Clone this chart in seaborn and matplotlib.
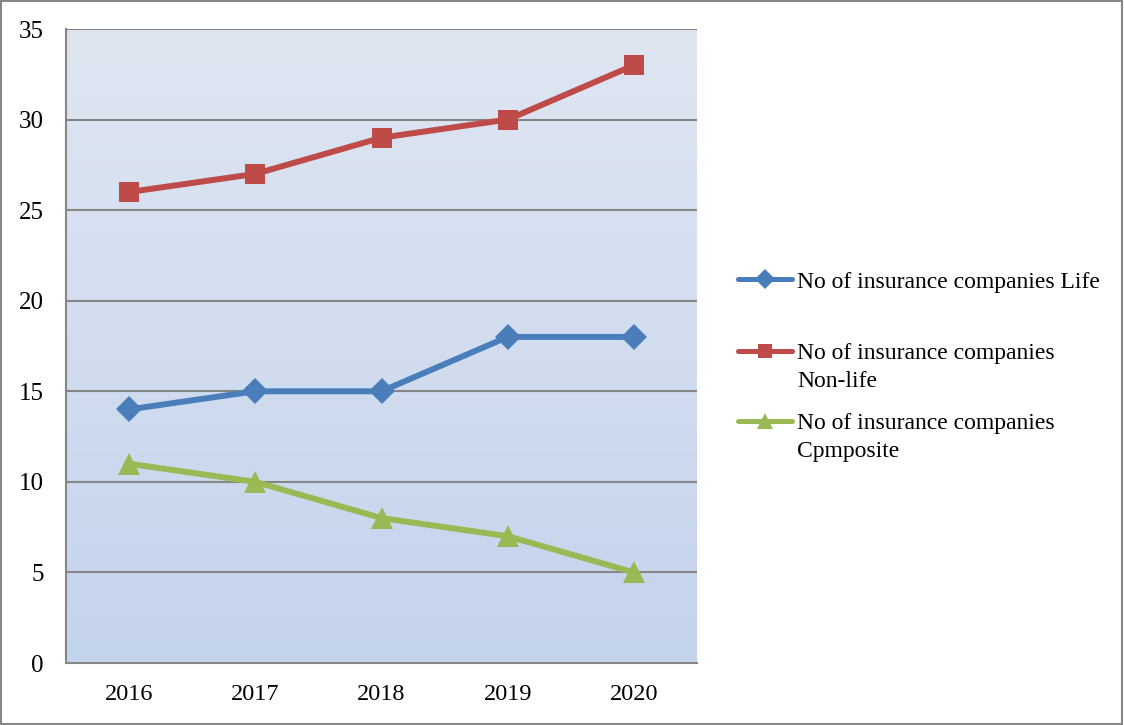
import numpy as np
import pandas as pd
import seaborn as sns
import matplotlib
matplotlib.use("Agg")
import matplotlib.pyplot as plt
from matplotlib.colors import LinearSegmentedColormap
from matplotlib.patches import Rectangle
from matplotlib.legend_handler import HandlerLine2D

years = ["2016", "2017", "2018", "2019", "2020"]
life = [14, 15, 15, 18, 18]
non_life = [26, 27, 29, 30, 33]
composite = [11, 10, 8, 7, 5]
series_names = [
    "No of insurance companies Life",
    "No of insurance companies\nNon-life",
    "No of insurance companies\nCpmposite",
]
y_ticks = [0, 5, 10, 15, 20, 25, 30, 35]

sns.set_theme(style="white")
plt.rcParams["font.family"] = ["Liberation Serif", "DejaVu Serif"]
plt.rcParams["text.color"] = "black"

df = pd.DataFrame({
    "pos": list(range(len(years))) * 3,
    "value": life + non_life + composite,
    "series": [series_names[0]] * 5 + [series_names[1]] * 5 + [series_names[2]] * 5,
})

palette = {series_names[0]: "#4a7ebb", series_names[1]: "#be4b48", series_names[2]: "#98b954"}
markers = {series_names[0]: "D", series_names[1]: "s", series_names[2]: "^"}
msizes = {series_names[0]: 13, series_names[1]: 14, series_names[2]: 16}


class RaisedLineHandler(HandlerLine2D):
    """Legend line handler that lifts the sample up to the first text line."""

    def __init__(self, lift_pts=0.0, **kw):
        super().__init__(**kw)
        self.lift_pts = lift_pts

    def create_artists(self, legend, orig_handle, xdescent, ydescent,
                       width, height, fontsize, trans):
        artists = super().create_artists(legend, orig_handle, xdescent, ydescent,
                                         width, height, fontsize, trans)
        for a in artists:
            a.set_ydata(np.asarray(a.get_ydata(), dtype=float) + self.lift_pts)
        return artists


fig = plt.figure(figsize=(11.24, 7.25), dpi=100)
ax = fig.add_axes([66 / 1124, 1 - 663 / 725, (697 - 66) / 1124, (663 - 29) / 725])

# vertical gradient fill for the plotting area
grad = np.linspace(0, 1, 256).reshape(-1, 1)
cmap = LinearSegmentedColormap.from_list("bg", ["#c4d3ec", "#dfe6f2"])
ax.imshow(grad, aspect="auto", cmap=cmap, origin="lower",
          extent=[0, 1, 0, 1], transform=ax.transAxes, zorder=0)

sns.lineplot(data=df, x="pos", y="value", hue="series", style="series",
             palette=palette, markers=markers, dashes=False, linewidth=4.3,
             markeredgewidth=0, ax=ax, legend=False, zorder=3)
for line, name in zip(ax.get_lines(), series_names):
    line.set_markersize(msizes[name])

ax.set_xlim(-0.5, len(years) - 0.5)
ax.set_ylim(0, 35)
ax.set_yticks(y_ticks)
ax.set_yticklabels([str(t) for t in y_ticks], fontsize=18)
ax.set_xticks(range(len(years)))
ax.set_xticklabels(years, fontsize=17.5)
ax.set_xticks(np.arange(-0.5, len(years), 1.0), minor=True)
ax.tick_params(axis="x", which="major", length=0, pad=15, labelcolor="black")
ax.tick_params(axis="x", which="minor", length=6, width=1.5, color="#868686", direction="out")
ax.tick_params(axis="y", which="major", length=6, width=1.5, color="#868686",
               labelcolor="black", direction="out", pad=10)
ax.set_xlabel("")
ax.set_ylabel("")

for t in y_ticks[1:]:
    ax.axhline(t, color="#868686", linewidth=1.5, zorder=1)

for side in ["top", "right"]:
    ax.spines[side].set_visible(False)
for side in ["left", "bottom"]:
    ax.spines[side].set_color("#868686")
    ax.spines[side].set_linewidth(1.5)

# one legend block per series, sample aligned with the first text line
legend_fs = 17
line_gap_pts = 28 * 72 / 100
handles = ax.get_lines()[:3]
first_line_y = [279, 351, 421]
for h, name, yy in zip(handles, series_names, first_line_y):
    n_extra = name.count("\n")
    leg = fig.legend([h], [name], loc="upper left",
                     bbox_to_anchor=(738 / 1124, 1 - (yy - 8) / 725), frameon=False,
                     fontsize=legend_fs, handlelength=2.3, handletextpad=0.2,
                     borderpad=0, borderaxespad=0, markerscale=0.75,
                     handler_map={h: RaisedLineHandler(lift_pts=n_extra * line_gap_pts)})
    for col in leg._legend_handle_box.get_children():
        for row in col.get_children():
            row.get_children()[1]._multilinebaseline = False
    for txt in leg.get_texts():
        txt.set_linespacing(1.45)
        txt.set_color("black")
    for lh in leg.legend_handles:
        lh.set_linewidth(3.6)

fig.patches.append(Rectangle((0.001, 0.001), 0.997, 0.997, transform=fig.transFigure,
                             fill=False, edgecolor="#868686", linewidth=1.5))

fig.savefig("out.png", dpi=100)
